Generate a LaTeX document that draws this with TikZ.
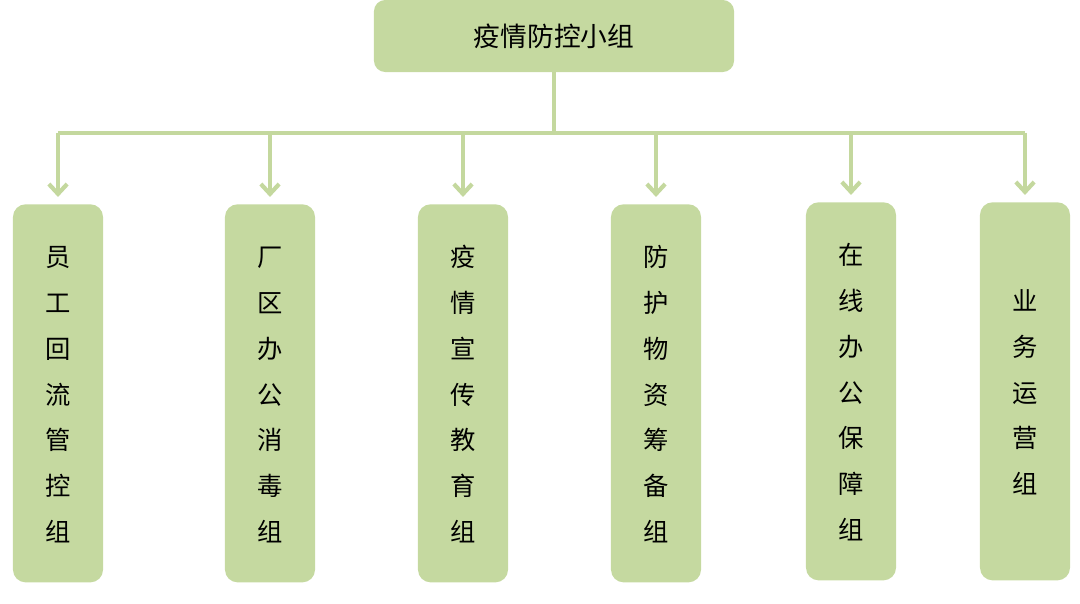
\documentclass[tikz,border=0pt]{standalone}
\usepackage{fontspec}
\setmainfont{Noto Sans CJK SC}
\usetikzlibrary{arrows.meta,positioning}
\definecolor{boxgreen}{RGB}{197,217,160}
\definecolor{linegreen}{RGB}{196,216,158}
\tikzset{
  topbox/.style={fill=boxgreen, rounded corners=8pt, minimum width=9cm, minimum height=1.8cm, font=\fontsize{19}{22}\selectfont},
  groupbox/.style={fill=boxgreen, rounded corners=9pt, minimum width=2.25cm, minimum height=9.45cm, anchor=north, font=\fontsize{18}{32.5}\selectfont, align=center, text depth=0pt},
  link/.style={linegreen, line width=3pt},
  arr/.style={link, -{Straight Barb[length=7pt, width=13pt, line width=3pt]}}
}
\begin{document}
\begin{tikzpicture}[x=0.025cm, y=-0.025cm]
  \useasboundingbox (0,0) rectangle (1080,604);
  % top
  \node[topbox] (top) at (554,36) {疫情防控小组};
  \coordinate (bar) at (554,133);
  \draw[link] (top.south) -- (bar);
  \draw[link] (58,133) -- (1025,133);
  % groups
  \foreach \x/\y/\name/\txt in {58/204/g1/{员\\工\\回\\流\\管\\控\\组},
                            270/204/g2/{厂\\区\\办\\公\\消\\毒\\组},
                            463/204/g3/{疫\\情\\宣\\传\\教\\育\\组},
                            656/204/g4/{防\\护\\物\\资\\筹\\备\\组},
                            851/202/g5/{在\\线\\办\\公\\保\\障\\组},
                            1025/202/g6/{业\\务\\运\\营\\组}} {
    \node[groupbox] (\name) at (\x,\y) {\vphantom{x}\\[-27pt]\txt};
    \coordinate (\name top) at (\x,133);
    \draw[arr] (\name top) -- ([yshift=5pt]\name.north);
  }
\end{tikzpicture}
\end{document}
